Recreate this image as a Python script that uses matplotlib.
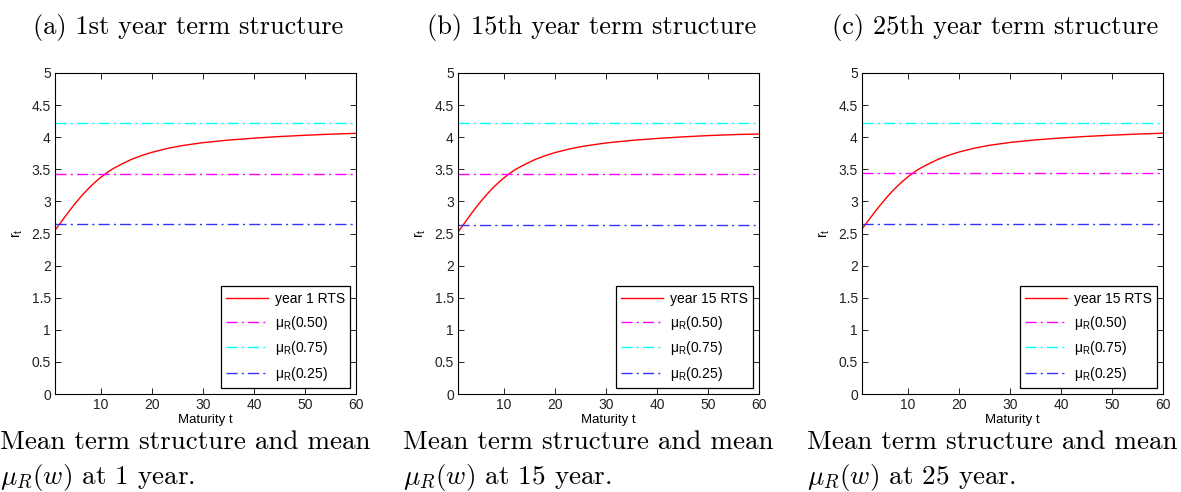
import matplotlib
matplotlib.use("Agg")
import matplotlib.pyplot as plt

plt.rcParams['mathtext.fontset'] = 'cm'

W, H = 1181, 492

maturity = [1, 2, 3, 4, 5, 6, 7, 8, 9, 10, 11, 12, 13, 14, 16, 18, 20, 23, 26, 30, 35, 40, 45, 50, 55, 60]
rts_a = [2.55, 2.658, 2.766, 2.871, 2.971, 3.066, 3.154, 3.235, 3.309, 3.376, 3.437, 3.492, 3.537,
         3.578, 3.655, 3.715, 3.765, 3.825, 3.87, 3.915, 3.955, 3.985, 4.01, 4.03, 4.047, 4.06]
rts_b = [2.52, 2.632, 2.743, 2.851, 2.953, 3.050, 3.140, 3.223, 3.298, 3.366, 3.428, 3.484, 3.530,
         3.571, 3.649, 3.710, 3.760, 3.820, 3.865, 3.910, 3.950, 3.980, 4.005, 4.025, 4.040, 4.050]
rts_c = [2.57, 2.676, 2.782, 2.885, 2.983, 3.076, 3.163, 3.243, 3.316, 3.382, 3.442, 3.497, 3.541,
         3.582, 3.659, 3.719, 3.769, 3.829, 3.874, 3.918, 3.958, 3.988, 4.012, 4.032, 4.049, 4.062]

mu50 = [3.43, 3.43, 3.44]
mu75 = [4.22, 4.22, 4.22]
mu25 = [2.65, 2.64, 2.65]

curve_labels = ["year 1 RTS", "year 15 RTS", "year 15 RTS"]
titles = ["(a) 1st year term structure", "(b) 15th year term structure", "(c) 25th year term structure"]
cap_years = ["1", "15", "25"]
yticks = [0, 0.5, 1, 1.5, 2, 2.5, 3, 3.5, 4, 4.5, 5]
ytick_labels = ["0", "0.5", "1", "1.5", "2", "2.5", "3", "3.5", "4", "4.5", "5"]
xticks = [10, 20, 30, 40, 50, 60]

fig = plt.figure(figsize=(W / 100, H / 100), dpi=100)

lefts = [55, 458, 862]
top, bottom = 73, 394
width = 301
sans = 'Liberation Sans'
curves = [rts_a, rts_b, rts_c]
dash = (8, 3, 1.5, 3)

for i in range(3):
    L = lefts[i]
    ax = fig.add_axes([L / W, (H - bottom) / H, width / W, (bottom - top) / H])
    ax.plot(maturity, curves[i], color='red', lw=1.0, label=curve_labels[i])
    ax.axhline(mu50[i], color='magenta', lw=1.0, ls='-.', dashes=dash, label=r'$\mathregular{\mu_R}$(0.50)')
    ax.axhline(mu75[i], color='cyan', lw=1.0, ls='-.', dashes=dash, label=r'$\mathregular{\mu_R}$(0.75)')
    ax.axhline(mu25[i], color='#3333ff', lw=1.0, ls='-.', dashes=dash, label=r'$\mathregular{\mu_R}$(0.25)')
    ax.set_xlim(1, 60)
    ax.set_ylim(0, 5)
    ax.set_xticks(xticks)
    ax.set_xticklabels([str(t) for t in xticks], fontfamily=sans, fontsize=10)
    ax.set_yticks(yticks)
    ax.set_yticklabels(ytick_labels, fontfamily=sans, fontsize=10)
    ax.tick_params(direction='in', top=True, right=True, length=4, width=0.7, pad=3, colors='#222222')
    for s in ax.spines.values():
        s.set_linewidth(0.8)
    ax.set_xlabel('Maturity t', fontfamily=sans, fontsize=9.5, labelpad=1.5)
    ax.set_ylabel(r'$\mathregular{r_t}$', fontfamily=sans, fontsize=10, labelpad=5)
    leg = ax.legend(loc='lower right', prop={'family': sans, 'size': 10}, frameon=True,
                    fancybox=False, edgecolor='black', framealpha=1, handlelength=3.0,
                    borderaxespad=0.4, labelspacing=0.55, borderpad=0.4, handletextpad=0.5)
    leg.get_frame().set_linewidth(0.9)
    cx = (L + width / 2 - 17) / W
    fig.text(cx, 1 - 34 / H, titles[i], ha='center', va='baseline', fontfamily='cmr10', fontsize=19)
    capx = (L - 55) / W
    fig.text(capx, 1 - 449 / H, 'Mean term structure and mean', ha='left', va='baseline',
             fontfamily='cmr10', fontsize=19.5)
    fig.text(capx, 1 - 484 / H, r'$\mu_R(w)$ at ' + cap_years[i] + ' year.', ha='left', va='baseline',
             fontfamily='cmr10', fontsize=19.5)

fig.savefig('out.png', dpi=100)
